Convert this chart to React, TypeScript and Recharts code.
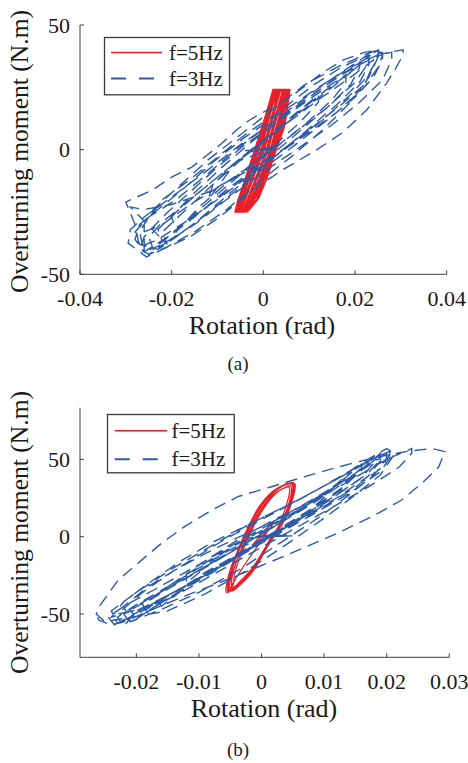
import React from 'react';
import { LineChart, Line, XAxis, YAxis, Legend } from 'recharts';

type P = [number, number];

const seriesNames = ['f=5Hz', 'f=3Hz'];
const xTicksA = [-0.04, -0.02, 0, 0.02, 0.04];
const yTicksA = [-50, 0, 50];
const xTicksB = [-0.02, -0.01, 0, 0.01, 0.02, 0.03];
const yTicksB = [-50, 0, 50];

// (a) f=5Hz
const redA: P[] = [
  [0, 0], [0.001, 4], [-0.0015, -6], [0.0015, 10], [-0.003, -14],
  [-0.0062, -25], [-0.0055, -20], [-0.004, -12], [-0.0018, 0], [-0.0004, 8], [0.0007, 14.7], [0.0022, 24], [0.0058, 24], [0.0051, 14.7], [0.0044, 8], [0.0028, 0], [0.0007, -12], [-0.0012, -20], [-0.0036, -25],
  [-0.006, -24.5], [-0.0052, -19], [-0.0037, -11], [-0.0016, 1], [-0.0002, 9], [0.0009, 15.5], [0.0024, 23.5], [0.0055, 23.5], [0.0048, 14], [0.004, 7], [0.0024, -1], [0.0003, -13], [-0.0015, -20], [-0.0038, -24.5],
  [-0.0053, -25], [-0.0023, -10], [-0.0001, 0], [0.0016, 12], [0.0034, 24], [0.0046, 24], [0.0028, 12], [0.0011, 0], [-0.001, -10], [-0.0043, -25],
  [-0.0058, -24.8], [-0.005, -19], [-0.0034, -10], [-0.0012, 2], [0.0002, 10], [0.0012, 16], [0.0026, 24], [0.005, 24], [0.0044, 15], [0.0036, 7], [0.0018, -2], [-0.0003, -13], [-0.002, -20], [-0.0042, -24.8],
  [-0.0056, -25], [-0.0027, -10], [-0.0005, 0], [0.0012, 12], [0.003, 24], [0.0042, 24], [0.0024, 12], [0.0007, 0], [-0.0014, -10], [-0.0046, -25],
  [-0.0056, -24.2], [-0.0046, -18], [-0.003, -9], [-0.0008, 3], [0.0006, 11], [0.0016, 17], [0.003, 24.2], [0.0047, 24.2], [0.004, 16], [0.003, 6], [0.0012, -4], [-0.0008, -14], [-0.0025, -20], [-0.0045, -24.2],
  [-0.0061, -24.9], [-0.0054, -20], [-0.0042, -13], [-0.0021, -1], [-0.0006, 7], [0.0005, 14], [0.0021, 23.8], [0.0057, 23.8], [0.0052, 15], [0.0045, 8.5], [0.003, 1], [0.0009, -11], [-0.001, -19.5], [-0.0034, -24.9],
  [-0.0049, -25], [-0.0019, -10], [0.0003, 0], [0.002, 12], [0.0038, 24], [0.005, 24], [0.0032, 12], [0.0015, 0], [-0.0006, -10], [-0.004, -25],
  [-0.0059, -24.6], [-0.0049, -18.5], [-0.0033, -10.5], [-0.0013, 1.5], [0.0001, 9.5], [0.0011, 15.5], [0.0025, 23.7], [0.0052, 23.7], [0.0046, 15.5], [0.0038, 7.5], [0.0021, -1], [0, -12.5], [-0.0018, -19.5], [-0.004, -24.6],
  [-0.0057, -24], [-0.0047, -18.2], [-0.0031, -9.6], [-0.001, 2.5], [0.0004, 10.5], [0.0014, 16.5], [0.0028, 24], [0.0049, 24], [0.0042, 15.8], [0.0033, 6.5], [0.0015, -3], [-0.0005, -13.5], [-0.0022, -20], [-0.0044, -24],
  [-0.0051, -24.5], [-0.0021, -9.5], [0.0001, 0.5], [0.0018, 12.5], [0.0036, 24], [0.0044, 24], [0.0026, 11.5], [0.0009, -0.5], [-0.0012, -10.5], [-0.0044, -24.5],
  [-0.0054, -24.5], [-0.0044, -18], [-0.0028, -9], [-0.0006, 3], [0.0008, 11], [0.0018, 17], [0.0032, 24], [0.0046, 24], [0.0038, 15], [0.0026, 5], [0.0008, -5], [-0.0012, -15], [-0.0028, -21], [-0.0047, -24.5],
  [-0.0052, -24], [-0.0041, -17], [-0.0024, -8], [-0.0002, 4], [0.0011, 12], [0.0021, 18], [0.0035, 24], [0.0044, 24], [0.0035, 14], [0.0022, 4], [0.0004, -6], [-0.0016, -16], [-0.0031, -21.5], [-0.0049, -24],
  [-0.006, -25], [-0.0046, -16], [-0.0026, -5], [-0.0004, 7], [0.0014, 17], [0.0032, 24], [0.0056, 24], [0.0046, 16], [0.0032, 6], [0.0016, -3], [-0.0004, -14], [-0.0022, -21], [-0.004, -25],
  [-0.0061, -25], [-0.005, -19], [-0.0032, -8], [-0.0014, 3], [0, 11], [0.001, 17], [0.0023, 24], [0.0054, 24], [0.0042, 13], [0.0031, 4], [0.0013, -6], [-0.0006, -16], [-0.0026, -22], [-0.0038, -25],
  [-0.0062, -25], [-0.0056, -20.5], [-0.0041, -12.5], [-0.0019, -0.5], [-0.0005, 7.5], [0.0006, 14.4], [0.0021, 24.2], [0.0058, 24.2], [0.005, 14.2], [0.0043, 7.6], [0.0027, -0.5], [0.0005, -12.5], [-0.0013, -20.3], [-0.0036, -25], [-0.0062, -25],
];

// (a) f=3Hz
const blueA: P[] = [
  [0, 0], [0.003, 0.3], [-0.004, -0.4], [0.002, 0.6], [-0.003, -1], [0.004, 2], [-0.006, -5],
  [-0.012, -20], [-0.011, -14], [-0.006, -5], [0, 4], [0.006, 13], [0.012, 22],
  [0.012, 19], [0.008, 11], [0.002, 1], [-0.004, -8], [-0.009, -15], [-0.014, -23],
  [-0.019, -33], [-0.02, -27], [-0.016, -19], [-0.009, -7], [-0.002, 4], [0.006, 15], [0.013, 24], [0.018, 30],
  [0.018, 27], [0.015, 20], [0.009, 10], [0.002, 0], [-0.005, -10], [-0.012, -21], [-0.017, -29], [-0.022, -37],
  [-0.023, -32], [-0.019, -25], [-0.012, -14], [-0.004, -2], [0.004, 9], [0.012, 20], [0.019, 29], [0.024, 36],
  [0.024, 34], [0.022, 26], [0.017, 18], [0.01, 8], [0.002, -3], [-0.006, -14], [-0.013, -24], [-0.019, -32], [-0.024, -40],
  [-0.025, -35], [-0.022, -29], [-0.016, -20], [-0.008, -8], [0, 3], [0.008, 15], [0.015, 25], [0.019, 31], [0.021, 35],
  [0.021, 33], [0.019, 26], [0.014, 17], [0.007, 6], [0, -5], [-0.008, -16], [-0.015, -27], [-0.02, -34], [-0.026, -41],
  [-0.028, -36], [-0.027, -30], [-0.023, -24], [-0.017, -15], [-0.011, -5], [-0.004, 5], [0.004, 15], [0.012, 25], [0.019, 33], [0.025, 38], [0.028, 39],
  [0.028, 36], [0.026, 28], [0.021, 19], [0.015, 10], [0.008, 1], [0, -9], [-0.008, -20], [-0.015, -30], [-0.021, -37], [-0.025, -42],
  [-0.027, -40], [-0.026, -35], [-0.022, -27], [-0.016, -17], [-0.01, -7], [-0.004, 2], [0.003, 11], [0.01, 21], [0.016, 29], [0.022, 35], [0.027, 39], [0.0305, 40],
  [0.0305, 38], [0.029, 33], [0.027, 27], [0.0226, 16], [0.0174, 7], [0.0117, 0], [0.0043, -8], [-0.0022, -16], [-0.0095, -27], [-0.016, -35], [-0.022, -40], [-0.0255, -43],
  [-0.0295, -37.5], [-0.029, -32], [-0.026, -27], [-0.02, -19], [-0.012, -8], [-0.005, 2], [0.003, 12], [0.01, 21], [0.017, 30], [0.022, 36], [0.025, 40],
  [0.025, 37], [0.023, 30], [0.019, 22], [0.013, 12], [0.006, 2], [-0.002, -9], [-0.01, -20], [-0.017, -29], [-0.023, -36], [-0.027, -39],
  [-0.028, -30], [-0.03, -21], [-0.024, -16], [-0.02, -11], [-0.0156, -7], [-0.0094, 2], [-0.0058, 8], [-0.0029, 12], [0.0058, 21], [0.013, 31], [0.0175, 36], [0.022, 39], [0.025, 40],
  [0.026, 38], [0.025, 33], [0.022, 25], [0.016, 15], [0.01, 7], [0.003, -2], [-0.005, -10], [-0.012, -17], [-0.02, -22], [-0.026, -24], [-0.029, -23],
  [-0.021, -38], [-0.022, -33], [-0.018, -26], [-0.011, -14], [-0.003, -1], [0.005, 11], [0.013, 23], [0.019, 31], [0.023, 37],
  [0.023, 34], [0.021, 27], [0.016, 18], [0.009, 7], [0.001, -5], [-0.007, -17], [-0.014, -28], [-0.019, -35], [-0.023, -40],
  [-0.027, -38], [-0.028, -33], [-0.025, -27], [-0.019, -20], [-0.013, -11], [-0.006, 0], [0.002, 11], [0.01, 22], [0.017, 31], [0.022, 37], [0.026, 39],
  [0.026, 36], [0.024, 29], [0.02, 21], [0.014, 12], [0.007, 2], [-0.001, -9], [-0.009, -21], [-0.016, -31], [-0.022, -38], [-0.026, -41],
  [-0.026, -30], [-0.022, -20], [-0.016, -12], [-0.01, -3], [-0.004, 6], [0.004, 16], [0.011, 26], [0.017, 33], [0.023, 38],
  [0.023, 35], [0.02, 27], [0.014, 17], [0.007, 7], [0, -3], [-0.008, -13], [-0.016, -22], [-0.022, -30], [-0.026, -33],
  [-0.026, -41], [-0.027, -33], [-0.024, -24], [-0.018, -14], [-0.012, -4], [-0.005, 6], [0.002, 16], [0.009, 26], [0.016, 33], [0.022, 38], [0.025, 40],
  [0.025, 37], [0.023, 29], [0.019, 19], [0.013, 8], [0.006, -3], [-0.001, -13], [-0.008, -24], [-0.015, -33], [-0.021, -39], [-0.025, -42],
];

// (b) f=5Hz
const redB: P[] = [
  [0, 0], [0.0015, 6], [-0.0015, -6], [0.002, 10], [-0.003, -20],
  [-0.0053, -35], [-0.0052, -28], [-0.0045, -18], [-0.0035, -8], [-0.0027, 0], [-0.0015, 10], [0, 21], [0.002, 30], [0.004, 34], [0.005, 34.5], [0.0052, 32], [0.0048, 24], [0.004, 15], [0.003, 7], [0.0016, 0], [0.0005, -8], [-0.001, -18], [-0.003, -28], [-0.0045, -34],
  [-0.0048, -33], [-0.0047, -26], [-0.004, -16], [-0.003, -7], [-0.0022, 0], [-0.001, 10], [0.0005, 20], [0.0022, 28], [0.0038, 32], [0.0046, 33], [0.0048, 30], [0.0044, 22], [0.0036, 13], [0.0026, 5], [0.0014, -2], [0.0002, -10], [-0.0014, -20], [-0.003, -28], [-0.0042, -32],
  [-0.0052, -34], [-0.005, -26], [-0.0042, -15], [-0.0032, -5], [-0.0024, 2], [-0.0012, 12], [0.0004, 22], [0.0022, 30], [0.0038, 33.5], [0.0048, 34], [0.005, 31], [0.0046, 23], [0.0038, 14], [0.0028, 6], [0.0018, -1], [0.0006, -9], [-0.0008, -19], [-0.0026, -28], [-0.0042, -33],
  [-0.0056, -36], [-0.0055, -29], [-0.0048, -19], [-0.0038, -9], [-0.003, -1], [-0.0018, 9], [-0.0003, 20], [0.0018, 29], [0.0038, 34], [0.005, 35], [0.0054, 33], [0.0051, 26], [0.0043, 16], [0.0033, 8], [0.0019, 0], [0.0007, -8], [-0.0009, -19], [-0.0029, -29], [-0.0046, -35],
  [-0.0045, -31], [-0.0043, -24], [-0.0035, -14], [-0.0026, -5], [-0.0018, 2], [-0.0006, 12], [0.001, 22], [0.0026, 29], [0.004, 32], [0.0045, 31], [0.0043, 25], [0.0036, 16], [0.0026, 6], [0.0012, -3], [0, -11], [-0.0016, -21], [-0.0032, -28],
  [-0.005, -34.5], [-0.0049, -27], [-0.0041, -17], [-0.0031, -7], [-0.0023, 1], [-0.0011, 11], [0.0005, 21], [0.0024, 30], [0.0041, 34], [0.005, 34], [0.0051, 31], [0.0047, 23], [0.0039, 14], [0.0029, 6], [0.0017, -2], [0.0004, -10], [-0.0012, -20], [-0.003, -29], [-0.0044, -33.5],
  [-0.0054, -35.5], [-0.0053, -28.5], [-0.0046, -18.5], [-0.0036, -8.5], [-0.0028, -0.5], [-0.0016, 9.5], [-0.0001, 20.5], [0.0019, 29.5], [0.0039, 34], [0.0049, 34.8], [0.0053, 32.5], [0.0049, 24.5], [0.0041, 15.5], [0.0031, 7.5], [0.0017, -0.5], [0.0006, -8.5], [-0.0009, -18.5], [-0.0029, -28.5], [-0.0045, -34.5], [-0.0054, -35.5],
];

// (b) f=3Hz
const blueB: P[] = [
  [0, 0], [0.005, 0.5], [-0.003, -0.3], [0.004, 1], [-0.002, -1], [0.003, 2], [-0.006, -10],
  [-0.012, -30], [-0.012, -24], [-0.008, -13], [-0.003, 0], [0.003, 13], [0.008, 23], [0.01, 28],
  [0.01, 25], [0.007, 15], [0.002, 2], [-0.004, -12], [-0.009, -23], [-0.016, -45],
  [-0.017, -38], [-0.013, -27], [-0.007, -12], [0, 4], [0.007, 20], [0.012, 34], [0.015, 45],
  [0.015, 41], [0.013, 31], [0.008, 17], [0.002, 2], [-0.005, -15], [-0.011, -30], [-0.02, -53],
  [-0.021, -47], [-0.017, -38], [-0.011, -24], [-0.004, -8], [0.003, 9], [0.009, 25], [0.015, 41], [0.018, 52],
  [0.018, 48], [0.016, 38], [0.011, 24], [0.005, 8], [-0.002, -9], [-0.009, -26], [-0.015, -40], [-0.0235, -57],
  [-0.0245, -52], [-0.022, -45], [-0.017, -34], [-0.01, -18], [-0.004, -4], [0.003, 12], [0.01, 28], [0.016, 43], [0.019, 51], [0.0205, 56],
  [0.0205, 53], [0.019, 44], [0.015, 32], [0.009, 17], [0.002, 2], [-0.005, -15], [-0.012, -32], [-0.018, -45], [-0.024, -52],
  [-0.022, -42], [-0.018, -30], [-0.013, -16], [-0.008, -4], [-0.002, 8], [0.005, 22], [0.012, 37], [0.017, 50], [0.02, 57],
  [0.021, 54], [0.019, 42], [0.014, 28], [0.008, 14], [0.001, -2], [-0.007, -20], [-0.014, -36], [-0.02, -48], [-0.022, -58],
  [-0.023, -52], [-0.02, -44], [-0.014, -30], [-0.007, -13], [0, 3], [0.007, 20], [0.014, 36], [0.02, 50], [0.024, 57],
  [0.024, 54], [0.022, 45], [0.017, 32], [0.01, 16], [0.003, 0], [-0.004, -16], [-0.011, -32], [-0.017, -45], [-0.021, -56],
  [-0.022, -50], [-0.019, -43], [-0.013, -29], [-0.006, -12], [0.001, 4], [0.008, 21], [0.014, 37], [0.017, 47], [0.019, 54],
  [0.019, 50], [0.017, 41], [0.012, 27], [0.006, 12], [-0.001, -5], [-0.008, -22], [-0.014, -36], [-0.019, -48], [-0.018, -50],
  [-0.019, -44], [-0.015, -34], [-0.009, -20], [-0.002, -3], [0.005, 14], [0.011, 30], [0.016, 47],
  [0.016, 43], [0.013, 32], [0.008, 18], [0.002, 3], [-0.005, -14], [-0.012, -31], [-0.018, -46], [-0.023, -50],
  [-0.019, -36], [-0.014, -22], [-0.009, -11], [-0.004, -1], [0.002, 10], [0.009, 26], [0.015, 41], [0.019, 52],
  [0.019, 49], [0.017, 39], [0.012, 25], [0.006, 11], [-0.001, -6], [-0.008, -23], [-0.015, -38], [-0.023, -56],
  [-0.024, -48], [-0.02, -36], [-0.014, -20], [-0.008, -6], [-0.002, 8], [0.005, 22], [0.011, 35], [0.016, 46], [0.02, 55],
  [0.02, 51], [0.018, 40], [0.014, 27], [0.009, 12], [0.003, -4], [-0.003, -20], [-0.01, -36], [-0.016, -47], [-0.021, -55],
  [-0.022, -45], [-0.018, -32], [-0.012, -17], [-0.006, -2], [0, 11], [0.007, 26], [0.013, 40], [0.018, 51], [0.021, 56],
  [0.021, 52], [0.019, 40], [0.015, 27], [0.01, 12], [0.004, -5], [-0.002, -21], [-0.009, -37], [-0.015, -48], [-0.025, -55],
  [-0.0264, -50], [-0.0259, -45], [-0.0229, -28], [-0.0197, -17], [-0.016, -4.3], [-0.0123, 6.5], [-0.008, 17], [-0.0037, 26], [0.0016, 32.3], [0.0069, 38.8], [0.0122, 45], [0.0176, 50.7], [0.023, 55], [0.0272, 57], [0.0293, 55],
  [0.0283, 45], [0.0256, 34.5], [0.0224, 23.7], [0.0186, 15], [0.012, 2], [0.004, -12], [-0.005, -27], [-0.012, -38], [-0.018, -48], [-0.022, -55], [-0.024, -57], [-0.026, -54], [-0.0264, -50],
];

const toRows = (pts: P[]) => pts.map(([x, y]) => ({ x, y }));

const RED = '#ea1f27';
const BLUE = '#2c5ba8';
const AXIS = '#404040';
const TEXT = '#1a1a1a';
const SERIF = 'Liberation Serif, Times New Roman, serif';

const tickStyle = { fontSize: 22, fontFamily: SERIF, fill: TEXT };

type LegendGeom = { left: number; top: number; w: number; h: number; lx1: number; lx2: number; ly: number; tx: number; ty: number; gap: number };

const makeLegend = (g: LegendGeom) => (props: any) => {
  const raw: any[] = (props && props.payload) || [];
  const items = [...raw].sort((a, b) => seriesNames.indexOf(a.value) - seriesNames.indexOf(b.value));
  return (
    <svg width={g.w + 1} height={g.h + 1} style={{ display: 'block', overflow: 'visible' }}>
      <rect x={0.5} y={0.5} width={g.w} height={g.h} fill="#fff" stroke="#3a3a3a" strokeWidth={1.3} />
      {items.map((it: any, i: number) => {
        const solid = it.value === seriesNames[0];
        return (
          <g key={i}>
            <line
              x1={g.lx1}
              x2={g.lx2}
              y1={g.ly + i * g.gap}
              y2={g.ly + i * g.gap}
              stroke={it.color}
              strokeWidth={solid ? 1.5 : 2}
              strokeDasharray={solid ? undefined : '15 13'}
            />
            <text x={g.tx} y={g.ty + i * g.gap} fontFamily={SERIF} fontSize={21} fill={TEXT}>
              {it.value}
            </text>
          </g>
        );
      })}
    </svg>
  );
};

type PanelProps = {
  top: number;
  height: number;
  marginTop: number;
  marginRight: number;
  xDomain: [number, number];
  yDomain: [number, number];
  xTicks: number[];
  yTicks: number[];
  red: P[];
  blue: P[];
  legend: LegendGeom;
  redCurve: 'linear' | 'natural';
  redWidth: number;
};

function Panel(p: PanelProps) {
  return (
    <div style={{ position: 'absolute', left: 0, top: p.top, width: 468, height: p.height }}>
      <LineChart width={468} height={p.height} margin={{ top: p.marginTop, right: p.marginRight, left: 0, bottom: 0 }}>
        <XAxis
          type="number"
          dataKey="x"
          domain={p.xDomain}
          ticks={p.xTicks}
          interval={0}
          allowDataOverflow
          height={105.7}
          tickSize={-4}
          tickMargin={20}
          stroke={AXIS}
          tick={tickStyle}
        />
        <YAxis
          type="number"
          dataKey="y"
          domain={p.yDomain}
          ticks={p.yTicks}
          interval={0}
          allowDataOverflow
          width={80}
          tickSize={-4}
          tickMargin={14}
          stroke={AXIS}
          tick={tickStyle}
        />
        <Line
          name={seriesNames[0]}
          data={toRows(p.red)}
          dataKey="y"
          type={p.redCurve}
          stroke={RED}
          strokeWidth={p.redWidth}
          dot={false}
          activeDot={false}
          isAnimationActive={false}
        />
        <Line
          name={seriesNames[1]}
          data={toRows(p.blue)}
          dataKey="y"
          type="linear"
          stroke={BLUE}
          strokeWidth={1.4}
          strokeDasharray="12 7"
          dot={false}
          activeDot={false}
          isAnimationActive={false}
        />
        <Legend
          layout="vertical"
          align="center"
          verticalAlign="middle"
          wrapperStyle={{ left: p.legend.left, top: p.legend.top, width: p.legend.w + 1, height: p.legend.h + 1 }}
          content={makeLegend(p.legend)}
        />
      </LineChart>
    </div>
  );
}

export default function App() {
  return (
    <div style={{ position: 'absolute', left: 0, top: 0, width: 468, height: 763, background: '#fff' }}>
      <Panel
        top={0}
        height={380}
        marginTop={25}
        marginRight={21.3}
        xDomain={[-0.04, 0.04]}
        yDomain={[-50, 50]}
        xTicks={xTicksA}
        yTicks={yTicksA}
        red={redA}
        blue={blueA}
        redCurve="linear"
        redWidth={1.3}
        legend={{ left: 104, top: 36.5, w: 125, h: 57.3, lx1: 7, lx2: 58, ly: 15.5, tx: 65, ty: 22.8, gap: 26 }}
      />
      <Panel
        top={380}
        height={383}
        marginTop={27.7}
        marginRight={18.7}
        xDomain={[-0.029, 0.03]}
        yDomain={[-78, 83.4]}
        xTicks={xTicksB}
        yTicks={yTicksB}
        red={redB}
        blue={blueB}
        redCurve="natural"
        redWidth={1.2}
        legend={{ left: 107.3, top: 34, w: 126.7, h: 58.3, lx1: 7.7, lx2: 60, ly: 16.7, tx: 64.4, ty: 23.5, gap: 28.5 }}
      />
      <svg
        width={468}
        height={763}
        style={{ position: 'absolute', left: 0, top: 0, pointerEvents: 'none' }}
        fontFamily={SERIF}
        fill={TEXT}
      >
        <text transform="translate(27.5,151.5) rotate(-90)" textAnchor="middle" fontSize={25} textLength={283} lengthAdjust="spacingAndGlyphs">
          Overturning moment (N.m)
        </text>
        <text x={262} y={334} textAnchor="middle" fontSize={26}>
          Rotation (rad)
        </text>
        <text x={238} y={370} textAnchor="middle" fontSize={19}>
          (a)
        </text>
        <text transform="translate(27.5,532.5) rotate(-90)" textAnchor="middle" fontSize={25} textLength={283} lengthAdjust="spacingAndGlyphs">
          Overturning moment (N.m)
        </text>
        <text x={264} y={717} textAnchor="middle" fontSize={26}>
          Rotation (rad)
        </text>
        <text x={238} y={756} textAnchor="middle" fontSize={19}>
          (b)
        </text>
      </svg>
    </div>
  );
}
